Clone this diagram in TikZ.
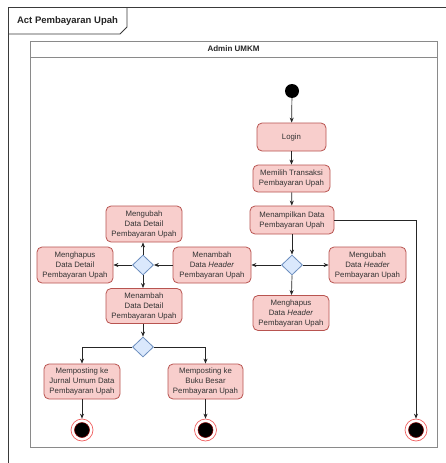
\documentclass[tikz,border=0pt]{standalone}
\usepackage{fontspec}
\setmainfont{Liberation Sans}
\usetikzlibrary{shapes.geometric,arrows.meta}
\definecolor{actfill}{HTML}{F8CECC}
\definecolor{actline}{HTML}{B85450}
\definecolor{decfill}{HTML}{DAE8FC}
\definecolor{decline}{HTML}{6C8EBF}
\definecolor{lanegray}{HTML}{8A8A8A}
\definecolor{framegray}{HTML}{3A3A3A}
\definecolor{ringred}{HTML}{F06060}
\tikzset{
  activity/.style={rectangle, rounded corners=5pt, draw=actline, fill=actfill,
    line width=0.8pt, align=center, inner sep=0pt,
    font=\fontsize{7.8}{10}\selectfont, text=black!80},
  decision/.style={diamond, draw=decline, fill=decfill, line width=0.8pt,
    minimum width=21pt, minimum height=20pt, inner sep=0pt},
  startstate/.style={circle, fill=black, minimum size=14pt, inner sep=0pt},
  endstate/.style={circle, minimum size=22pt, inner sep=0pt, draw=ringred,
    line width=0.7pt, fill=white,
    path picture={\fill[black, draw=red!55!black, line width=0.5pt]
      (path picture bounding box.center) circle (7.5pt);}},
  flow/.style={draw=black!85, line width=0.7pt,
    -{Stealth[length=5pt,width=4pt]}},
}
\begin{document}
\begin{tikzpicture}[x=1pt,y=-1pt]
\useasboundingbox (0,0) rectangle (446,463);
\fill[white] (0,0) rectangle (446,463);

% outer activity frame with its name tab
\draw[framegray, line width=0.8pt] (8.5,463) -- (8.5,7) -- (446,7);
\draw[framegray, line width=0.8pt] (8.5,34) -- (120,34) -- (127,27) -- (127,7);
\node[font=\bfseries\fontsize{9.5}{11}\selectfont, text=black!85] (title) at (67.5,21) {Act Pembayaran Upah};

% swimlane
\draw[lanegray, line width=0.9pt] (30,41) rectangle (437,447);
\draw[lanegray, line width=0.9pt] (30,57) -- (437,57);
\node[font=\bfseries\fontsize{8}{10}\selectfont, text=black!85] (lane) at (233.5,49) {Admin UMKM};

% states and activities
\node[startstate] (start) at (292,91) {};
\node[activity, minimum width=69pt, minimum height=28pt] (login) at (291.5,137) {Login};
\node[activity, minimum width=77pt, minimum height=27pt] (pilih) at (291.5,178.5) {Memilih Transaksi\\Pembayaran Upah};
\node[activity, minimum width=84pt, minimum height=28pt] (tampil) at (292,220) {Menampilkan Data\\Pembayaran Upah};
\node[decision] (dR) at (292,265) {};
\node[activity, minimum width=77pt, minimum height=36pt] (ubahH) at (367.5,265) {Mengubah\\Data \textit{Header}\\Pembayaran Upah};
\node[activity, minimum width=78pt, minimum height=36pt] (tambahH) at (212,265) {Menambah\\Data \textit{Header}\\Pembayaran Upah};
\node[activity, minimum width=76pt, minimum height=35pt] (hapusH) at (291,313) {Menghapus\\Data \textit{Header}\\Pembayaran Upah};

\node[decision] (dL) at (143,265) {};
\node[activity, minimum width=76pt, minimum height=36pt] (ubahD) at (144,224) {Mengubah\\Data Detail\\Pembayaran Upah};
\node[activity, minimum width=76pt, minimum height=36pt] (hapusD) at (75,265) {Menghapus\\Data Detail\\Pembayaran Upah};
\node[activity, minimum width=76pt, minimum height=35pt] (tambahD) at (144,306) {Menambah\\Data Detail\\Pembayaran Upah};

\node[decision] (dB) at (143,347) {};
\node[activity, minimum width=76pt, minimum height=35pt] (jurnal) at (82,381.5) {Memposting ke\\Jurnal Umum Data\\Pembayaran Upah};
\node[activity, minimum width=75pt, minimum height=35pt] (buku) at (205.5,381.5) {Memposting ke\\Buku Besar\\Pembayaran Upah};

\node[endstate] (endA) at (82,430) {};
\node[endstate] (endB) at (205.5,430) {};
\node[endstate] (endC) at (416,430) {};

% control flows
\draw[flow] (start) -- (login);
\draw[flow] (login) -- (pilih);
\draw[flow] (pilih) -- (tampil);
\draw[flow] (tampil) -- (dR);
\draw[flow] (dR.west) -- (tambahH);
\draw[flow] (dR.east) -- (ubahH);
\draw[flow] (dR.south) -- (hapusH);
\draw[flow] (tambahH) -- (dL.east);
\draw[flow] (dL.north) -- (ubahD.south -| dL.north);
\draw[flow] (dL.west) -- (hapusD);
\draw[flow] (dL.south) -- (tambahD.north -| dL.south);
\draw[flow] (tambahD.south -| dB.north) -- (dB.north);
\draw[flow] (dB.west) -| (jurnal.north);
\draw[flow] (dB.east) -| (buku.north);
\draw[flow] (jurnal) -- (endA);
\draw[flow] (buku) -- (endB);
\draw[flow] (tampil.east) -| (endC.north);
\end{tikzpicture}
\end{document}
